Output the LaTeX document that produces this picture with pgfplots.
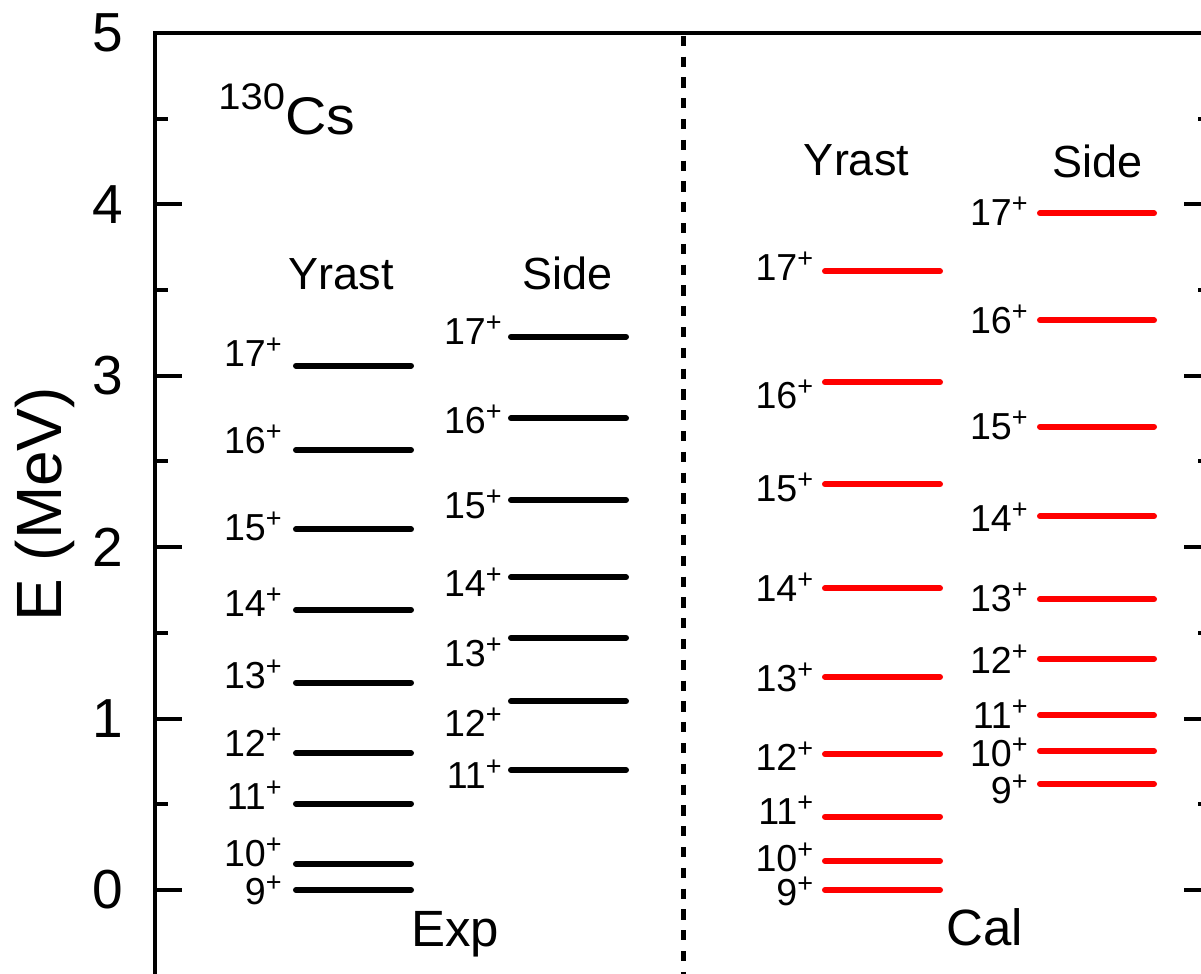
\documentclass[border=0pt]{standalone}
\usepackage{fontspec}
\setmainfont{Liberation Sans}
\usepackage{graphicx}
\usepackage{pgfplots}
\pgfplotsset{compat=1.18}

\definecolor{calred}{RGB}{255,0,0}

\tikzset{
  enline/.style={line width=3pt, line cap=round},
  spinlabel/.style={anchor=base east, inner sep=0pt, font=\fontsize{18.8}{20}\selectfont},
  head/.style={anchor=base, inner sep=0pt, font=\fontsize{22.5}{24}\selectfont},
  setname/.style={anchor=base, inner sep=0pt, font=\fontsize{25.5}{27}\selectfont},
}

% spin label with a raised parity sign
\newcommand{\spin}[1]{#1\raisebox{6.5pt}{\fontsize{13.5}{14}\selectfont +}}

% one level: colour, x start, x end, energy (MeV), spin, label drop (px), label right edge
\newcommand{\level}[7]{%
  \addplot[#1, enline] coordinates {(#2,#4) (#3,#4)};
  \node[spinlabel, yshift=-#6*0.5pt] at (axis cs:#7,#4) {\spin{#5}};
}

\begin{document}
\begin{tikzpicture}
\begin{axis}[
  x=0.5pt, y=85.7pt,
  xmin=155, xmax=1211, ymin=-0.5, ymax=5,
  clip=false,
  axis line style={line width=2pt},
  tick style={line width=2pt, black},
  xtick=\empty,
  ytick={0,1,2,3,4,5},
  minor ytick={0.5,1.5,2.5,3.5,4.5},
  tick align=inside,
  major tick length=13.5pt, minor tick length=6.5pt,
  ytick pos=both, yticklabel pos=left,
  /pgf/number format/assume math mode=true,
  yticklabel style={font=\fontsize{27.5}{30}\selectfont, inner sep=0pt, xshift=-16pt},
  ylabel={E (MeV)},
  every axis y label/.style={at={(rel axis cs:0,0.5)}, xshift=-46.5pt, rotate=90,
    anchor=base, inner sep=0pt, font=\fontsize{32}{34}\selectfont},
]
% divider between experiment and calculation
\addplot[black, line width=2.5pt, dash pattern=on 5.1pt off 5.3pt, dash phase=8.95pt]
  coordinates {(683,5) (683,-0.5)};

% experiment, yrast band
\level{black}{296}{411}{0}{9}{15}{282}
\level{black}{296}{411}{0.152}{10}{3}{282}
\level{black}{296}{411}{0.503}{11}{6}{282}
\level{black}{296}{411}{0.798}{12}{3}{282}
\level{black}{296}{411}{1.210}{13}{6}{282}
\level{black}{296}{411}{1.634}{14}{7}{282}
\level{black}{296}{411}{2.104}{15}{11}{282}
\level{black}{296}{411}{2.567}{16}{3}{282}
\level{black}{296}{411}{3.059}{17}{1}{282}

% experiment, side band
\level{black}{511}{626}{0.700}{11}{18}{502}
\level{black}{511}{626}{1.101}{12}{35}{502}
\level{black}{511}{626}{1.472}{13}{29}{502}
\level{black}{511}{626}{1.824}{14}{19}{502}
\level{black}{511}{626}{2.275}{15}{18}{502}
\level{black}{511}{626}{2.752}{16}{15}{502}
\level{black}{511}{626}{3.228}{17}{8}{502}

% calculation, yrast band
\level{calred}{825}{940}{0}{9}{16}{813.5}
\level{calred}{825}{940}{0.169}{10}{10}{813.5}
\level{calred}{825}{940}{0.428}{11}{8}{813.5}
\level{calred}{825}{940}{0.792}{12}{16}{813.5}
\level{calred}{825}{940}{1.243}{13}{15}{813.5}
\level{calred}{825}{940}{1.760}{14}{13}{813.5}
\level{calred}{825}{940}{2.367}{15}{17}{813.5}
\level{calred}{825}{940}{2.962}{16}{26}{813.5}
\level{calred}{825}{940}{3.610}{17}{9}{813.5}

% calculation, side band
\level{calred}{1040}{1154}{0.618}{9}{19}{1028}
\level{calred}{1040}{1154}{0.811}{10}{16}{1028}
\level{calred}{1040}{1154}{1.019}{11}{13}{1028}
\level{calred}{1040}{1154}{1.349}{12}{15}{1028}
\level{calred}{1040}{1154}{1.696}{13}{12}{1028}
\level{calred}{1040}{1154}{2.180}{14}{15}{1028}
\level{calred}{1040}{1154}{2.703}{15}{13}{1028}
\level{calred}{1040}{1154}{3.324}{16}{13}{1028}
\level{calred}{1040}{1154}{3.948}{17}{12}{1028}

% band headings and set names
\node[head] at (axis cs:341,3.501) {Yrast};
\node[head] at (axis cs:567.5,3.501) {Side};
\node[head] at (axis cs:856.5,4.166) {Yrast};
\node[head] at (axis cs:1097.5,4.154) {Side};
\node[setname] at (axis cs:455,-0.331) {Exp};
\node[setname] at (axis cs:985,-0.321) {Cal};

% nucleus
\node[anchor=base west, inner sep=0pt] at (axis cs:218,4.405)
  {\scalebox{1.08}[1]{\raisebox{12.5pt}{\fontsize{18.5}{19}\selectfont 130}\fontsize{26.5}{28}\selectfont Cs}};

\coordinate (bbtl) at (axis cs:0,5.1925);
\coordinate (bbbr) at (axis cs:1201,-0.49);
\end{axis}
\pgfresetboundingbox
\useasboundingbox (bbtl) rectangle (bbbr);
\end{tikzpicture}
\end{document}
